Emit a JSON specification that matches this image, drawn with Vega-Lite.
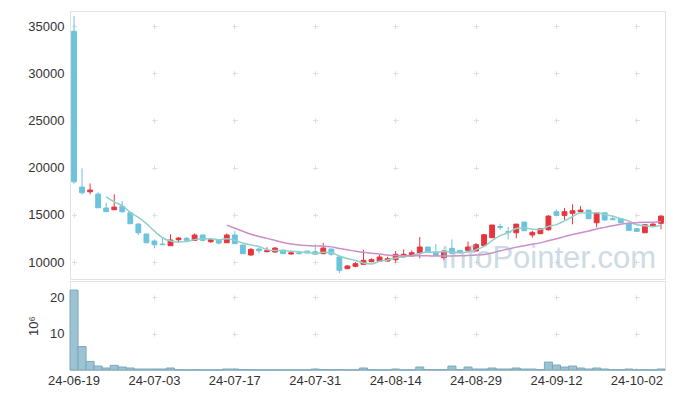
{
"$schema": "https://vega.github.io/schema/vega-lite/v6.json",
"padding": {"left": 19, "top": 10, "right": 10, "bottom": 5},
"background": "white",
"spacing": 0,
"config": {
  "view": {"stroke": "#e2e2e2"},
  "font": "Liberation Sans",
  "axis": {"labelFont": "Liberation Sans", "labelFontSize": 13, "labelColor": "#333333", "domain": false, "ticks": false, "tickSize": 0, "gridColor": "#dedede", "gridWidth": 1}
},
"data": {"values": [
{"d":"24-06-19","o":34450,"h":36050,"l":18310,"c":18500,"v":22.0,"m5":null,"m20":null},
{"d":"24-06-20","o":17940,"h":19920,"l":17170,"c":17340,"v":6.45,"m5":null,"m20":null},
{"d":"24-06-21","o":17445,"h":18330,"l":17170,"c":17625,"v":2.36,"m5":null,"m20":null},
{"d":"24-06-24","o":17200,"h":17380,"l":15750,"c":15750,"v":1.09,"m5":null,"m20":null},
{"d":"24-06-25","o":15720,"h":16280,"l":15330,"c":15330,"v":0.55,"m5":16909,"m20":null},
{"d":"24-06-26","o":15540,"h":17170,"l":15540,"c":15820,"v":1.27,"m5":16373,"m20":null},
{"d":"24-06-27","o":15900,"h":16460,"l":15220,"c":15330,"v":0.82,"m5":15971,"m20":null},
{"d":"24-06-28","o":15220,"h":15330,"l":14060,"c":14060,"v":0.55,"m5":15258,"m20":null},
{"d":"24-07-01","o":14020,"h":14130,"l":12860,"c":13100,"v":0.27,"m5":14728,"m20":null},
{"d":"24-07-02","o":12970,"h":12970,"l":11980,"c":12040,"v":0.27,"m5":14070,"m20":null},
{"d":"24-07-03","o":12220,"h":12400,"l":11450,"c":11830,"v":0.27,"m5":13272,"m20":null},
{"d":"24-07-04","o":11900,"h":12650,"l":11830,"c":11830,"v":0.27,"m5":12572,"m20":null},
{"d":"24-07-05","o":11730,"h":12930,"l":11730,"c":12330,"v":0.55,"m5":12226,"m20":null},
{"d":"24-07-08","o":12360,"h":12650,"l":12040,"c":12540,"v":0.08,"m5":12114,"m20":null},
{"d":"24-07-09","o":12510,"h":12650,"l":12300,"c":12300,"v":0.06,"m5":12166,"m20":null},
{"d":"24-07-10","o":12300,"h":13040,"l":12300,"c":12860,"v":0.07,"m5":12372,"m20":null},
{"d":"24-07-11","o":12860,"h":12860,"l":12220,"c":12300,"v":0.05,"m5":12466,"m20":null},
{"d":"24-07-12","o":12150,"h":12360,"l":12040,"c":12360,"v":0.05,"m5":12472,"m20":null},
{"d":"24-07-15","o":12360,"h":12360,"l":11870,"c":12010,"v":0.06,"m5":12366,"m20":null},
{"d":"24-07-16","o":12040,"h":13040,"l":12040,"c":12860,"v":0.27,"m5":12478,"m20":13906},
{"d":"24-07-17","o":12860,"h":13280,"l":11940,"c":11940,"v":0.27,"m5":12294,"m20":13578},
{"d":"24-07-18","o":11800,"h":11800,"l":10880,"c":10880,"v":0.1,"m5":12010,"m20":13255},
{"d":"24-07-19","o":10740,"h":11480,"l":10670,"c":11340,"v":0.08,"m5":11806,"m20":12941},
{"d":"24-07-22","o":11380,"h":11560,"l":10920,"c":11200,"v":0.05,"m5":11644,"m20":12713},
{"d":"24-07-23","o":11090,"h":11560,"l":11030,"c":11200,"v":0.05,"m5":11312,"m20":12507},
{"d":"24-07-24","o":11060,"h":11590,"l":10980,"c":11480,"v":0.06,"m5":11220,"m20":12290},
{"d":"24-07-25","o":11270,"h":11270,"l":10880,"c":10880,"v":0.05,"m5":11220,"m20":12067},
{"d":"24-07-26","o":10850,"h":11130,"l":10770,"c":10980,"v":0.04,"m5":11148,"m20":11913},
{"d":"24-07-29","o":10980,"h":11160,"l":10810,"c":10880,"v":0.04,"m5":11084,"m20":11802},
{"d":"24-07-30","o":11160,"h":11160,"l":10950,"c":10950,"v":0.05,"m5":11034,"m20":11748},
{"d":"24-07-31","o":11090,"h":11870,"l":10820,"c":10820,"v":0.27,"m5":10902,"m20":11697},
{"d":"24-08-01","o":10880,"h":12010,"l":10880,"c":11480,"v":0.1,"m5":11022,"m20":11680},
{"d":"24-08-02","o":11380,"h":11380,"l":10670,"c":10820,"v":0.08,"m5":10990,"m20":11604},
{"d":"24-08-05","o":10530,"h":10530,"l":8835,"c":9120,"v":0.12,"m5":10638,"m20":11433},
{"d":"24-08-06","o":9290,"h":9650,"l":9290,"c":9580,"v":0.06,"m5":10364,"m20":11297},
{"d":"24-08-07","o":9545,"h":10000,"l":9440,"c":9820,"v":0.05,"m5":10164,"m20":11145},
{"d":"24-08-08","o":9755,"h":11300,"l":9755,"c":10180,"v":0.55,"m5":9904,"m20":11039},
{"d":"24-08-09","o":10030,"h":10390,"l":9970,"c":10245,"v":0.08,"m5":9789,"m20":10933},
{"d":"24-08-12","o":10075,"h":10740,"l":10075,"c":10530,"v":0.06,"m5":10071,"m20":10859},
{"d":"24-08-13","o":10105,"h":10560,"l":10030,"c":10350,"v":0.05,"m5":10225,"m20":10734},
{"d":"24-08-14","o":10245,"h":11160,"l":9925,"c":10815,"v":0.27,"m5":10424,"m20":10678},
{"d":"24-08-16","o":10560,"h":11340,"l":10455,"c":10815,"v":0.06,"m5":10551,"m20":10674},
{"d":"24-08-19","o":10635,"h":11240,"l":10635,"c":10985,"v":0.07,"m5":10699,"m20":10657},
{"d":"24-08-20","o":10950,"h":12650,"l":10390,"c":11590,"v":0.82,"m5":10911,"m20":10676},
{"d":"24-08-21","o":11590,"h":11590,"l":11060,"c":11060,"v":0.1,"m5":11053,"m20":10669},
{"d":"24-08-22","o":11060,"h":11910,"l":10710,"c":10710,"v":0.08,"m5":11032,"m20":10631},
{"d":"24-08-23","o":10455,"h":11240,"l":10180,"c":11165,"v":0.1,"m5":11102,"m20":10645},
{"d":"24-08-26","o":11450,"h":12400,"l":10920,"c":10920,"v":1.09,"m5":11089,"m20":10642},
{"d":"24-08-27","o":11240,"h":11240,"l":11060,"c":11060,"v":0.1,"m5":10983,"m20":10651},
{"d":"24-08-28","o":11240,"h":12150,"l":11240,"c":11590,"v":0.82,"m5":11089,"m20":10683},
{"d":"24-08-29","o":11165,"h":12010,"l":11165,"c":11830,"v":0.27,"m5":11313,"m20":10733},
{"d":"24-08-30","o":11730,"h":12970,"l":11730,"c":12890,"v":0.27,"m5":11658,"m20":10804},
{"d":"24-09-02","o":12575,"h":13920,"l":12575,"c":13920,"v":0.55,"m5":12258,"m20":10959},
{"d":"24-09-03","o":13770,"h":14055,"l":13390,"c":13660,"v":0.27,"m5":12790,"m20":11189},
{"d":"24-09-04","o":13230,"h":13740,"l":12400,"c":13120,"v":0.27,"m5":13106,"m20":11368},
{"d":"24-09-05","o":13100,"h":14020,"l":12510,"c":14020,"v":0.55,"m5":13544,"m20":11578},
{"d":"24-09-06","o":14235,"h":14235,"l":13315,"c":13315,"v":0.27,"m5":13629,"m20":11735},
{"d":"24-09-09","o":12860,"h":13315,"l":12575,"c":13145,"v":0.27,"m5":13474,"m20":11880},
{"d":"24-09-10","o":13000,"h":13525,"l":13000,"c":13525,"v":0.1,"m5":13435,"m20":12030},
{"d":"24-09-11","o":13420,"h":14945,"l":13315,"c":14870,"v":2.18,"m5":13775,"m20":12256},
{"d":"24-09-12","o":15330,"h":15580,"l":14945,"c":14945,"v":1.36,"m5":13960,"m20":12462},
{"d":"24-09-13","o":14945,"h":15720,"l":14450,"c":15330,"v":0.82,"m5":14363,"m20":12688},
{"d":"24-09-19","o":15160,"h":16110,"l":13990,"c":15430,"v":1.09,"m5":14820,"m20":12910},
{"d":"24-09-20","o":15330,"h":15930,"l":15160,"c":15505,"v":0.55,"m5":15216,"m20":13106},
{"d":"24-09-23","o":15505,"h":15505,"l":14585,"c":14585,"v":0.27,"m5":15159,"m20":13282},
{"d":"24-09-24","o":14160,"h":15220,"l":13675,"c":15220,"v":0.55,"m5":15214,"m20":13508},
{"d":"24-09-25","o":15220,"h":15220,"l":14350,"c":14450,"v":0.27,"m5":15038,"m20":13672},
{"d":"24-09-26","o":14585,"h":14945,"l":14480,"c":14480,"v":0.08,"m5":14856,"m20":13852},
{"d":"24-09-27","o":14585,"h":14585,"l":14160,"c":14160,"v":0.07,"m5":14587,"m20":14007},
{"d":"24-09-30","o":14100,"h":14100,"l":13355,"c":13355,"v":0.27,"m5":14341,"m20":14095},
{"d":"24-10-02","o":13525,"h":13600,"l":13250,"c":13250,"v":0.06,"m5":13947,"m20":14166},
{"d":"24-10-04","o":13100,"h":13950,"l":13100,"c":13950,"v":0.08,"m5":13847,"m20":14219},
{"d":"24-10-07","o":13810,"h":14100,"l":13700,"c":14020,"v":0.06,"m5":13747,"m20":14224},
{"d":"24-10-08","o":14100,"h":14945,"l":13460,"c":14870,"v":0.27,"m5":13889,"m20":14282}
]},
"vconcat": [
{
  "width": 595,
  "height": 268,
  "encoding": {
    "x": {"field": "d", "type": "ordinal", "sort": null, "title": null,
      "scale": {"paddingInner": 0, "paddingOuter": 0},
      "axis": {"values": ["24-06-19","24-07-03","24-07-17","24-07-31","24-08-14","24-08-29","24-09-12","24-10-02"],
        "labels": false, "domain": false, "ticks": false, "grid": true, "gridDash": [5, 42.18], "gridDashOffset": 34.58, "minExtent": 0, "maxExtent": 0}}
  },
  "layer": [
    {
      "mark": {"type": "rule", "strokeWidth": 1},
      "encoding": {
        "y": {"field": "l", "type": "quantitative", "title": null,
          "scale": {"domain": [8200, 36600], "nice": false, "zero": false},
          "axis": {"values": [10000, 15000, 20000, 25000, 30000, 35000], "format": "d", "labelPadding": 6, "grid": true, "gridDash": [5, 75.4], "gridDashOffset": 78.88, "minExtent": 50, "maxExtent": 50}},
        "y2": {"field": "h"},
        "color": {"condition": {"test": "datum.c > datum.o", "value": "#e8343c"}, "value": "#6cc3dc"}
      }
    },
    {
      "mark": {"type": "bar", "width": {"band": 0.6}, "strokeWidth": 1},
      "encoding": {
        "y": {"field": "o", "type": "quantitative", "title": null},
        "y2": {"field": "c"},
        "color": {"condition": {"test": "datum.c > datum.o", "value": "#e8343c"}, "value": "#6cc3dc"},
        "stroke": {"condition": {"test": "datum.c > datum.o", "value": "#e8343c"}, "value": "#6cc3dc"}
      }
    },
    {
      "mark": {"type": "line", "interpolate": "monotone", "color": "#93d0c9", "strokeWidth": 1.5},
      "encoding": {"y": {"field": "m5", "type": "quantitative", "title": null}}
    },
    {
      "mark": {"type": "line", "interpolate": "monotone", "color": "#cc8ec7", "strokeWidth": 1.5},
      "encoding": {"y": {"field": "m20", "type": "quantitative", "title": null}}
    },
    {
      "data": {"values": [{"t": "InfoPointer.com"}]},
      "mark": {"type": "text", "font": "Liberation Sans", "fontSize": 31, "align": "center", "baseline": "alphabetic", "color": "#9ab9cb", "opacity": 0.5},
      "encoding": {
        "x": {"datum": "24-09-11", "type": "ordinal"},
        "y": {"datum": 9400, "type": "quantitative"},
        "text": {"field": "t", "type": "nominal"}
      }
    }
  ]
},
{
  "width": 595,
  "height": 89,
  "mark": {"type": "bar", "width": {"band": 1}, "color": "#9dc3d2", "stroke": "#7ba8bd", "strokeWidth": 1, "opacity": 1},
  "encoding": {
    "x": {"field": "d", "type": "ordinal", "sort": null, "title": null,
      "scale": {"paddingInner": 0, "paddingOuter": 0},
      "axis": {"values": ["24-06-19","24-07-03","24-07-17","24-07-31","24-08-14","24-08-29","24-09-12","24-10-02"],
        "labelAngle": 0, "labelPadding": 4, "labelFlush": false, "labelOverlap": false, "labelBound": false,
        "domain": true, "domainColor": "#d0d0d0", "ticks": false,
        "grid": true, "gridDash": [5, 31.33], "gridDashOffset": 22.48}},
    "y": {"field": "v", "type": "quantitative",
      "scale": {"domain": [0, 24.5], "nice": false},
      "axis": {"values": [10, 20], "title": "10⁶", "titleFont": "Liberation Sans", "titleFontSize": 13, "titleFontWeight": "normal", "titleColor": "#333333", "titlePadding": 6,
        "labelPadding": 6, "minExtent": 24, "maxExtent": 24, "grid": true, "gridDash": [5, 75.4], "gridDashOffset": 78.88}}
  }
}
]
}
